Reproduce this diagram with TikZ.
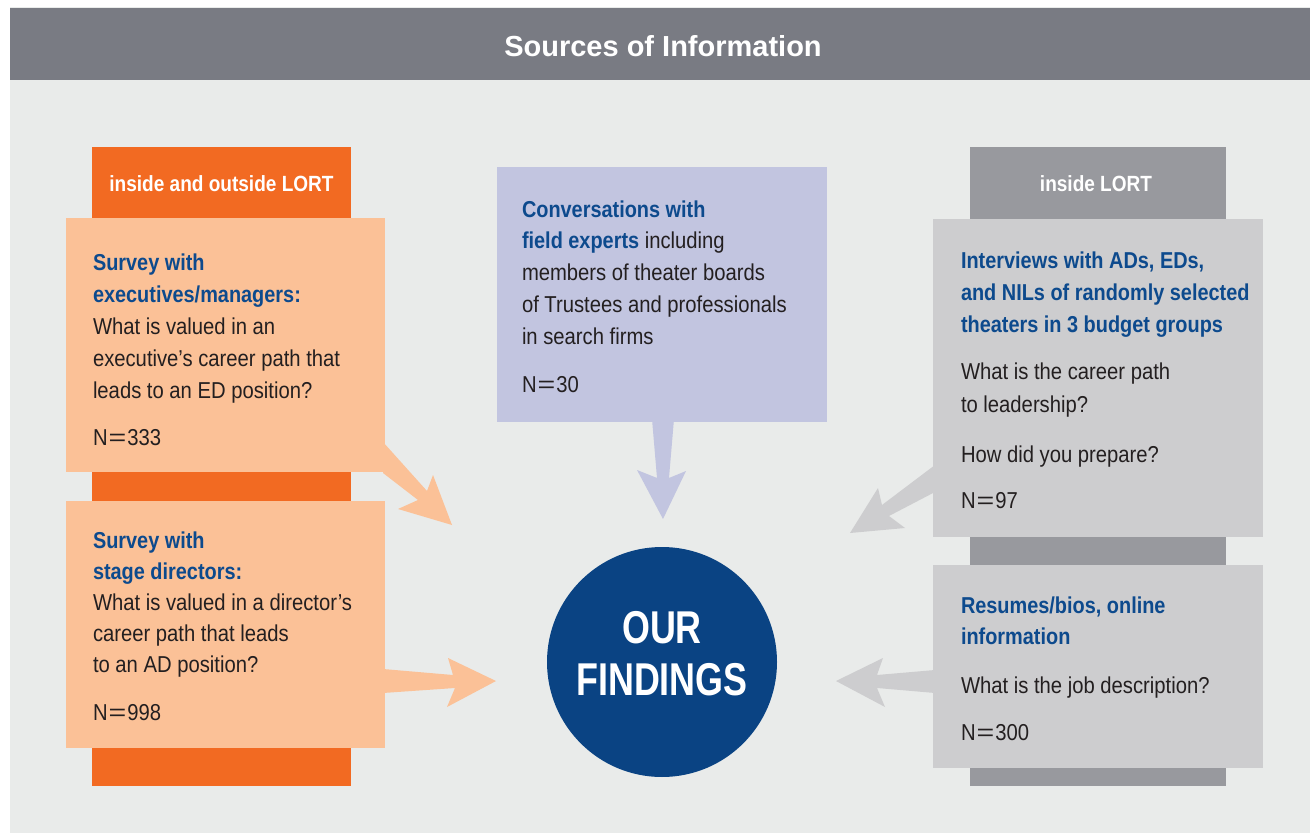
\documentclass[tikz,border=0pt]{standalone}
\usepackage{fontspec}
\usepackage{graphicx}
\setmainfont{Liberation Sans}[FakeStretch=0.88,BoldFeatures={FakeStretch=0.865}]
\newfontfamily\titlefont{Liberation Sans}
\newfontfamily\circfont{Liberation Sans}[FakeStretch=0.78]
\definecolor{bggray}{HTML}{E9EBEA}
\definecolor{hdrgray}{HTML}{797B83}
\definecolor{orng}{HTML}{F26A22}
\definecolor{peach}{HTML}{FBC197}
\definecolor{lav}{HTML}{C2C5E0}
\definecolor{gstrip}{HTML}{98999E}
\definecolor{gbox}{HTML}{CDCDCF}
\definecolor{tblue}{HTML}{0D4A8D}
\definecolor{cblue}{HTML}{0A4383}
\definecolor{tdark}{HTML}{231F20}
\newcommand\hd[1]{{\bfseries\color{tblue}#1}}
\newcommand\eqs{\kern1pt\scalebox{1.5}[1]{=}\kern1pt}
\begin{document}
\begin{tikzpicture}[x=1pt,y=-1pt,
  panel/.style={inner sep=0, outer sep=0, anchor=north west, draw=none},
  txt/.style={inner sep=0, outer sep=0, anchor=north west, align=left, text=tdark, font=\fontsize{23}{32}\selectfont},
  lab/.style={inner sep=0, anchor=base, text=white, font=\bfseries\fontsize{22}{26}\selectfont}]
\useasboundingbox (0,0) rectangle (1310,837);
% background and header
\node[panel, fill=bggray, minimum width=1300pt, minimum height=826pt] (bg) at (10,7) {};
\node[panel, fill=hdrgray, minimum width=1300pt, minimum height=72pt] (hdr) at (10,8) {};
\node[anchor=base, inner sep=0, text=white, font=\titlefont\bfseries\fontsize{29}{34}\selectfont] (title) at (663,57) {Sources of Information};
% strips
\node[panel, fill=orng, minimum width=259pt, minimum height=639pt] (ostrip) at (92,147) {};
\node[panel, fill=gstrip, minimum width=256pt, minimum height=639pt] (gstripn) at (970,147) {};
\node[lab] (lab1) at (221.5,192) {inside and outside LORT};
\node[lab] (lab2) at (1096,192) {inside LORT};
% boxes
\node[panel, fill=peach, minimum width=319pt, minimum height=254pt] (box1) at (66,218) {};
\node[panel, fill=peach, minimum width=319pt, minimum height=247pt] (box2) at (66,501) {};
\node[panel, fill=lav, minimum width=330pt, minimum height=255pt] (mid) at (497,167) {};
\node[panel, fill=gbox, minimum width=330pt, minimum height=318pt] (box3) at (933,219) {};
\node[panel, fill=gbox, minimum width=330pt, minimum height=203pt] (box4) at (933,565) {};
% arrows
\fill[peach] (383,442) -- (427,491) -- (433,475) -- (452,525) -- (398,509) -- (418,500) -- (383,473) -- cycle;
\fill[peach] (383,669) -- (453,675) -- (448,658) -- (496,681) -- (447,707) -- (455,688) -- (383,693) -- cycle;
\fill[lav] (652,419) -- (657,478) -- (637,470) -- (663,519) -- (686,471) -- (669,478) -- (674,419) -- cycle;
\fill[gbox] (935,465) -- (882,505) -- (878,488) -- (850,533) -- (905,528) -- (889,516) -- (935,492) -- cycle;
\fill[gbox] (935,670) -- (877,675) -- (883,658) -- (836,681) -- (885,707) -- (877,688) -- (935,693) -- cycle;
% circle
\node[circle, fill=cblue, minimum size=230pt, inner sep=0] (find) at (662,662) {};
\node[anchor=north, align=center, inner sep=0, text=white, font=\circfont\bfseries\fontsize{46}{52}\selectfont] (ftext) at (662,607) {\rule{0pt}{36pt}OUR\\FINDINGS};
% texts
\node[txt] (t1) at (93,250) {\rule{0pt}{20pt}\hd{Survey with}\\
  \hd{executives/managers:}\\
  What is valued in an\\
  executive’s career path that\\
  leads to an ED position?\\[15pt]
  N\eqs333};
\node[txt, font=\fontsize{23}{31.2}\selectfont] (t2) at (93,528) {\rule{0pt}{20pt}\hd{Survey with}\\
  \hd{stage directors:}\\
  What is valued in a director’s\\
  career path that leads\\
  to an AD position?\\[16pt]
  N\eqs998};
\node[txt, font=\fontsize{23}{31.8}\selectfont] (t3) at (522,197) {\rule{0pt}{20pt}\hd{Conversations with}\\
  \hd{field experts} including\\
  members of theater boards\\
  of Trustees and professionals\\
  in search firms\\[16pt]
  N\eqs30};
\node[txt, font=\fontsize{23}{32.3}\selectfont] (t4) at (961,248) {\rule{0pt}{20pt}\hd{Interviews with ADs, EDs,}\\
  \hd{and NILs of randomly selected}\\
  \hd{theaters in 3 budget groups}\\[15pt]
  What is the career path\\
  to leadership?\\[18pt]
  How did you prepare?\\[14pt]
  N\eqs97};
\node[txt, font=\fontsize{23}{31.5}\selectfont] (t5) at (961,593) {\rule{0pt}{20pt}\hd{Resumes/bios, online}\\
  \hd{information}\\[17pt]
  What is the job description?\\[16pt]
  N\eqs300};
\end{tikzpicture}
\end{document}
